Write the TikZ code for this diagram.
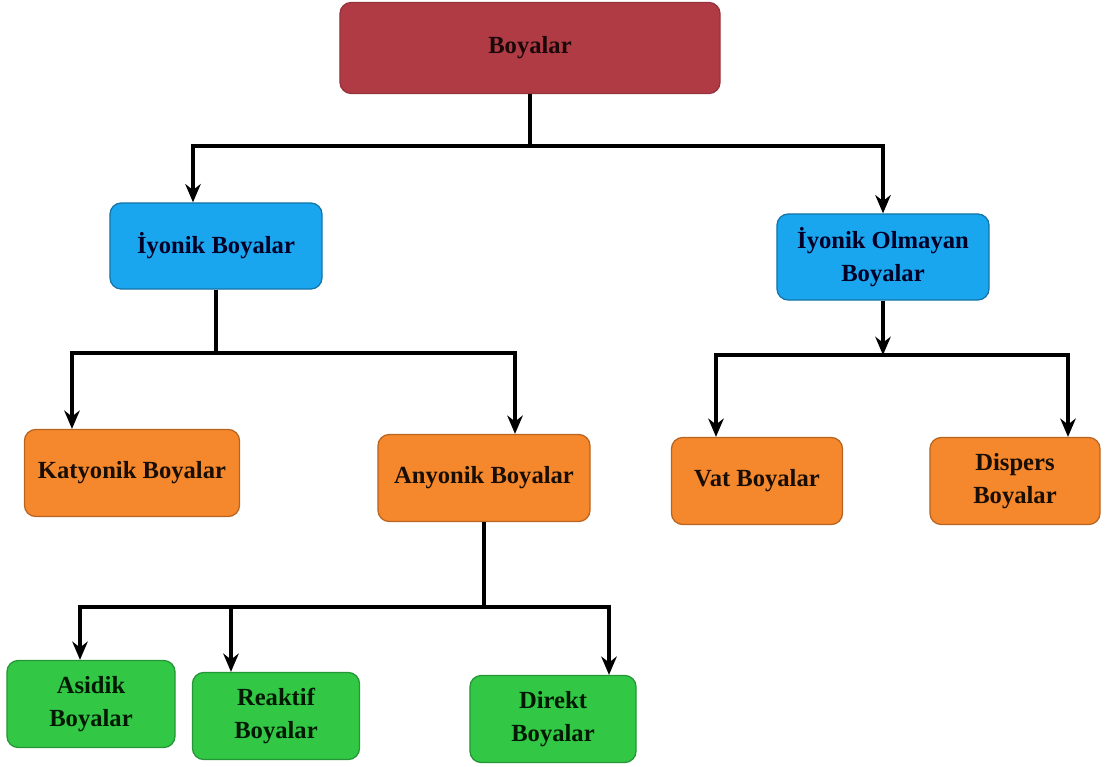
\documentclass[tikz,border=0pt]{standalone}
\usepackage{fontspec}
\setmainfont{Liberation Serif}
\usetikzlibrary{arrows.meta}

\definecolor{rootred}{HTML}{B03B45}
\definecolor{ionblue}{HTML}{1AA6EE}
\definecolor{subor}{HTML}{F5872C}
\definecolor{leafgr}{HTML}{32C846}

\tikzset{
  box/.style={draw, rounded corners=8pt, line width=0.9pt, align=center,
    inner sep=2pt, font=\bfseries\fontsize{17.5}{24}\selectfont},
  rootbox/.style={box, fill=rootred, draw=rootred!85!black, text=black!85!rootred,
    minimum width=9.5cm, minimum height=2.275cm},
  ionbox/.style={box, fill=ionblue, draw=ionblue!70!black, text=black!85!blue,
    minimum width=5.3cm, minimum height=2.15cm},
  subbox/.style={box, fill=subor, draw=subor!75!black, text=black!90!subor,
    minimum width=5.3cm, minimum height=2.175cm},
  leafbox/.style={box, fill=leafgr, draw=leafgr!75!black, text=black!90!green,
    minimum width=4.2cm, minimum height=2.175cm},
  link/.style={line width=2.2pt},
  arr/.style={link, -{Stealth[length=13pt,width=11pt]}}
}

\begin{document}
\begin{tikzpicture}[x=0.025cm, y=-0.025cm]
  \useasboundingbox (0,0) rectangle (1105,767);

  % kutular
  \node[rootbox] (boya) at (530,48) {Boyalar};
  \node[ionbox] (ion) at (216,246) {İyonik Boyalar};
  \node[ionbox] (nonion) at (883,257) {İyonik Olmayan\\Boyalar};
  \node[subbox, minimum width=5.375cm] (kat) at (132,473) {Katyonik Boyalar};
  \node[subbox] (any) at (484,478) {Anyonik Boyalar};
  \node[subbox, minimum width=4.275cm] (vat) at (757,481) {Vat Boyalar};
  \node[subbox, minimum width=4.25cm] (disp) at (1015,481) {Dispers\\Boyalar};
  \node[leafbox] (asid) at (91,704) {Asidik\\Boyalar};
  \node[leafbox, minimum width=4.175cm] (reak) at (276,716) {Reaktif\\Boyalar};
  \node[leafbox, minimum width=4.15cm] (direk) at (553,719) {Direkt\\Boyalar};

  % baglantilar
  \coordinate (j0) at (530,146);
  \draw[link] (boya.south) -- (j0);
  \draw[arr] (j0) -| ([xshift=-0.575cm]ion.north);
  \draw[arr] (j0) -| (nonion.north);

  \coordinate (j1) at (216,353);
  \draw[link] (ion.south) -- (j1);
  \draw[arr] (j1) -| ([xshift=-1.5cm]kat.north);
  \draw[arr] (j1) -| ([xshift=0.775cm]any.north);

  \coordinate (j2) at (883,355);
  \draw[arr] (nonion.south) -- (j2);
  \draw[link] ([xshift=-1.025cm]vat.north |- j2) -- ([xshift=1.325cm]disp.north |- j2);
  \draw[arr] (j2) -| ([xshift=-1.025cm]vat.north);
  \draw[arr] (j2) -| ([xshift=1.325cm]disp.north);

  \coordinate (j3) at (484,607);
  \draw[link] (any.south) -- (j3);
  \draw[arr] (j3) -| ([xshift=-0.275cm]asid.north);
  \draw[arr] (j3) -| ([xshift=-1.125cm]reak.north);
  \draw[arr] (j3) -| ([xshift=1.4cm]direk.north);
\end{tikzpicture}
\end{document}
